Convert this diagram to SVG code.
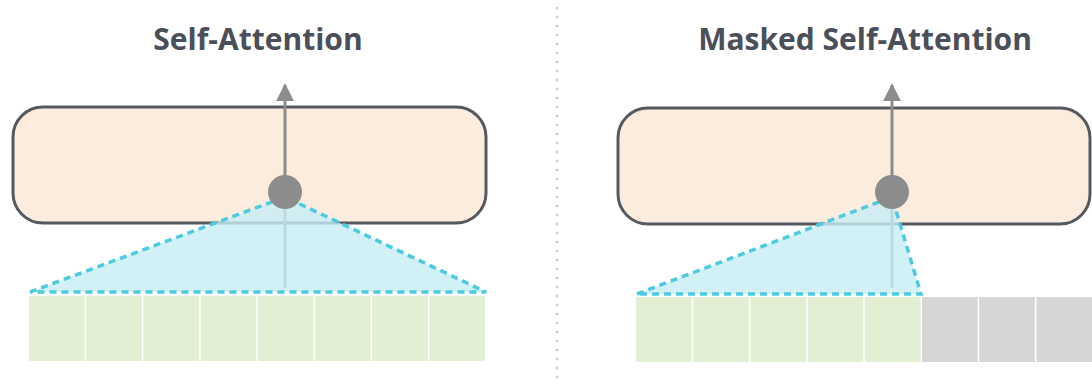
<svg xmlns="http://www.w3.org/2000/svg" width="1092" height="385" viewBox="0 0 1092 385">
  <defs>
    <marker id="arrow" viewBox="0 0 10 10" refX="9" refY="5" markerWidth="6" markerHeight="6" markerUnits="strokeWidth" orient="auto">
      <path d="M0,0 L10,5 L0,10 z" fill="#8c8c8c"/>
    </marker>
    <style>
      .title { font-family: "Open Sans", "Liberation Sans", sans-serif; font-weight: 700; font-size: 30px; fill: #4b4f59; text-anchor: middle; }
      .block { fill: #fcecde; stroke: #55595f; stroke-width: 3; }
      .flow { stroke: #8c8c8c; stroke-width: 3; fill: none; }
      .hub { fill: #8c8c8c; }
      .scope { fill: #c6eef5; fill-opacity: 0.8; stroke: #4ccae0; stroke-width: 3.5; stroke-dasharray: 7 5; }
      .tok { fill: #e2efd5; }
      .masked { fill: #d6d6d6; }
      .divider { stroke: #c8c8c8; stroke-width: 2.5; stroke-linecap: round; stroke-dasharray: 0 9; }
    </style>
  </defs>

  <line class="divider" x1="557" y1="8" x2="557" y2="385"/>

  <!-- Self-attention: every position sees all tokens -->
  <g id="self-attention">
    <text class="title" x="258" y="50">Self-Attention</text>
    <rect class="block" x="13" y="107" width="473" height="116" rx="30"/>
    <line class="flow" x1="285" y1="288" x2="285" y2="85" marker-end="url(#arrow)"/>
    <polygon class="scope" points="30,292 285,197 486,292"/>
    <g id="tokens-left">
      <rect class="tok" x="29" y="296" width="55.7" height="65"/>
      <rect class="tok" x="86.2" y="296" width="55.7" height="65"/>
      <rect class="tok" x="143.4" y="296" width="55.7" height="65"/>
      <rect class="tok" x="200.6" y="296" width="55.7" height="65"/>
      <rect class="tok" x="257.8" y="296" width="55.7" height="65"/>
      <rect class="tok" x="315" y="296" width="55.7" height="65"/>
      <rect class="tok" x="372.2" y="296" width="55.7" height="65"/>
      <rect class="tok" x="429.4" y="296" width="55.7" height="65"/>
    </g>
    <circle class="hub" cx="285" cy="192" r="17"/>
  </g>

  <!-- Masked self-attention: later tokens hidden -->
  <g id="masked-self-attention">
    <text class="title" x="865" y="50">Masked Self-Attention</text>
    <rect class="block" x="618" y="108" width="472" height="116" rx="30"/>
    <line class="flow" x1="892" y1="288" x2="892" y2="85" marker-end="url(#arrow)"/>
    <polygon class="scope" points="637,294 892,197 921,294"/>
    <g id="tokens-right">
      <rect class="tok" x="636" y="297" width="55.7" height="65"/>
      <rect class="tok" x="693.2" y="297" width="55.7" height="65"/>
      <rect class="tok" x="750.4" y="297" width="55.7" height="65"/>
      <rect class="tok" x="807.6" y="297" width="55.7" height="65"/>
      <rect class="tok" x="864.8" y="297" width="55.7" height="65"/>
      <rect class="masked" x="922" y="297" width="55.7" height="65"/>
      <rect class="masked" x="979.2" y="297" width="55.7" height="65"/>
      <rect class="masked" x="1036.4" y="297" width="55.7" height="65"/>
    </g>
    <circle class="hub" cx="892" cy="192" r="17"/>
  </g>
</svg>
